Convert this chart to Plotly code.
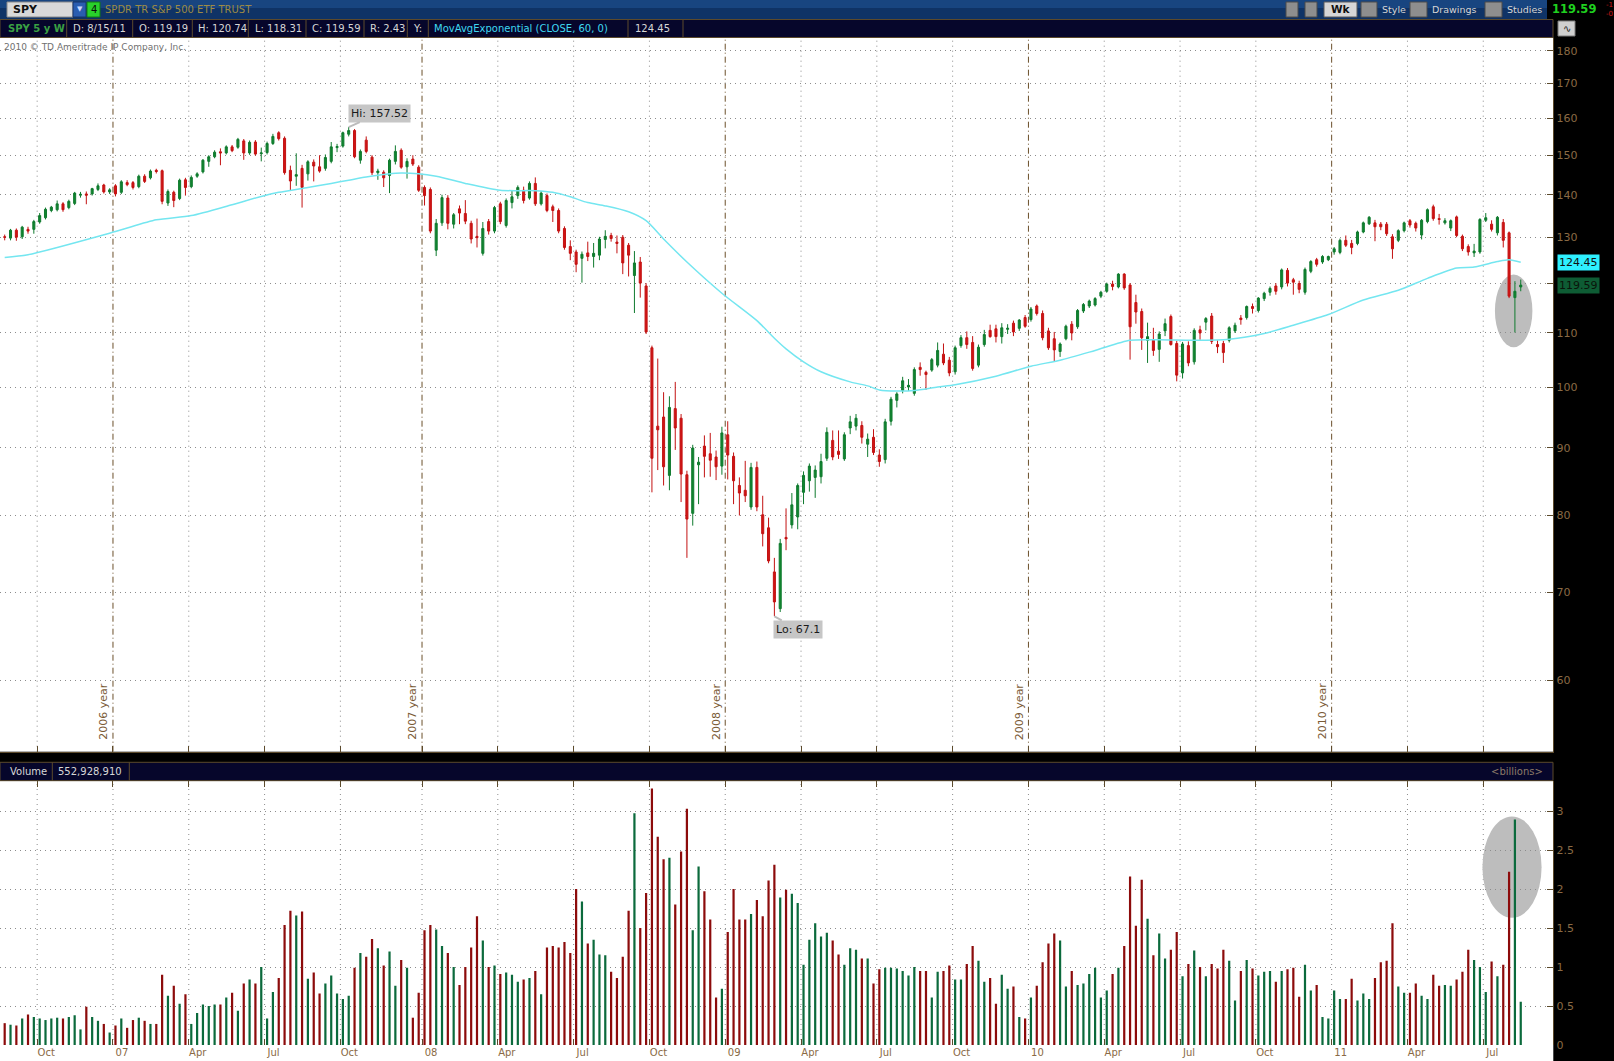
import math
import pandas as pd
import plotly.graph_objects as go

W, H = 1614, 1061

# weekly bars, SPY, Aug 2006 - Aug 2011
dates = pd.date_range("2006-08-21", periods=261, freq="W-MON")

opens = [
    130.1, 129.8, 131.6, 130.1, 131.8, 131.8, 133.5, 134.5, 136.2, 136.4,
    137.8, 136.9, 137.9, 139.9, 140.2, 140.2, 141.3, 142.4, 140.7, 142.2,
    140.6, 143.0, 143.0, 142.0, 144.6, 144.2, 146.1, 146.0, 138.0, 140.6,
    139.1, 143.7, 142.0, 144.6, 145.7, 148.4, 149.6, 150.9, 150.6, 152.2,
    152.1, 153.8, 150.6, 153.5, 150.4, 150.7, 153.1, 156.0, 154.5, 146.1,
    144.6, 146.6, 145.2, 148.2, 147.0, 146.6, 148.4, 152.0, 152.4, 155.6,
    156.6, 148.7, 154.0, 149.5, 145.5, 145.6, 144.8, 148.4, 151.3, 147.0,
    149.0, 146.9, 141.8, 141.3, 127.1, 133.3, 139.2, 133.0, 136.6, 135.5,
    133.2, 130.2, 126.4, 133.6, 131.4, 137.8, 132.7, 138.1, 139.8, 141.1,
    139.2, 142.8, 137.8, 139.8, 137.1, 136.2, 132.0, 127.9, 126.7, 125.3,
    126.5, 125.7, 126.0, 129.5, 130.4, 128.9, 130.0, 128.2, 121.6, 124.5,
    119.4, 107.2, 93.5, 95.0, 85.8, 96.4, 94.8, 85.9, 80.3, 87.4,
    90.3, 89.1, 88.6, 87.2, 92.1, 88.7, 84.3, 83.6, 81.2, 87.0,
    80.1, 78.3, 72.5, 68.0, 77.0, 78.7, 79.8, 83.3, 85.0, 85.5,
    85.6, 88.4, 91.2, 89.5, 88.3, 93.2, 93.5, 93.6, 90.6, 91.7,
    88.9, 88.2, 94.3, 97.8, 99.5, 100.1, 99.0, 103.6, 102.7, 103.1,
    104.0, 106.0, 104.9, 102.8, 107.6, 109.1, 108.2, 104.0, 107.8, 110.5,
    110.8, 109.3, 110.7, 111.9, 110.9, 113.0, 112.6, 115.3, 113.8, 110.4,
    108.9, 106.5, 108.9, 111.7, 111.2, 114.3, 115.3, 115.5, 117.3, 118.3,
    119.8, 119.2, 121.9, 119.6, 116.0, 114.2, 108.6, 108.6, 106.9, 110.4,
    113.2, 108.0, 102.6, 107.6, 104.6, 110.6, 112.1, 113.3, 107.8, 108.0,
    108.6, 110.4, 112.9, 113.0, 115.2, 114.4, 116.8, 118.1, 119.4, 119.2,
    122.7, 120.7, 119.9, 118.1, 122.5, 125.0, 124.5, 125.0, 126.7, 126.6,
    129.3, 128.6, 128.6, 131.2, 133.1, 133.3, 133.0, 133.0, 130.1, 129.3,
    131.5, 133.8, 133.2, 130.5, 133.6, 137.1, 134.3, 133.3, 132.1, 134.7,
    130.2, 127.9, 126.5, 126.7, 133.9, 133.0, 131.0, 133.4, 131.0, 117.0,
    119.19,
]

highs = [
    130.6, 131.9, 132.0, 132.6, 132.4, 134.0, 135.6, 136.9, 137.3, 138.6,
    138.2, 138.8, 140.7, 140.7, 140.8, 141.7, 142.8, 142.7, 141.6, 142.6,
    143.6, 143.6, 143.4, 145.0, 145.1, 146.3, 146.5, 146.3, 141.3, 141.0,
    144.0, 144.2, 144.8, 145.6, 149.0, 150.0, 151.3, 151.8, 152.6, 152.7,
    154.6, 154.3, 153.9, 154.0, 152.0, 153.6, 155.7, 156.4, 155.0, 147.3,
    150.5, 147.5, 148.7, 148.9, 150.0, 150.2, 153.5, 153.0, 156.3, 157.52,
    157.0, 151.5, 155.0, 150.0, 146.5, 146.1, 149.1, 152.6, 151.8, 149.2,
    150.0, 147.4, 142.3, 141.8, 134.2, 140.0, 139.9, 135.6, 137.4, 138.7,
    133.8, 134.3, 133.5, 134.2, 137.3, 138.3, 139.1, 141.0, 142.3, 142.0,
    143.3, 144.3, 140.9, 140.3, 137.6, 136.7, 132.5, 129.3, 127.2, 126.8,
    129.0, 128.7, 130.1, 131.6, 131.0, 130.4, 130.5, 128.7, 126.9, 125.6,
    120.0, 107.6, 105.2, 99.2, 98.5, 101.0, 95.5, 86.5, 90.5, 88.6,
    92.0, 92.4, 89.6, 93.4, 94.3, 89.3, 85.5, 88.0, 87.7, 87.9,
    82.8, 79.7, 74.3, 76.8, 81.0, 83.2, 84.6, 86.4, 87.6, 87.3,
    89.1, 93.3, 92.8, 92.8, 92.5, 95.2, 95.5, 94.3, 92.3, 93.0,
    89.8, 94.7, 98.4, 99.2, 101.9, 101.5, 103.6, 104.5, 103.0, 105.3,
    108.2, 108.0, 105.5, 107.6, 109.6, 110.3, 109.4, 107.8, 110.6, 111.6,
    111.6, 111.9, 111.7, 112.4, 112.7, 113.5, 115.1, 115.6, 114.4, 111.0,
    110.2, 108.2, 111.6, 112.3, 114.7, 115.9, 116.6, 117.1, 118.4, 120.1,
    120.5, 122.1, 122.1, 120.0, 117.6, 114.8, 112.0, 111.0, 110.3, 112.8,
    113.6, 108.5, 108.3, 108.4, 110.9, 111.4, 113.1, 113.9, 108.6, 108.5,
    111.3, 112.0, 113.5, 115.4, 115.8, 117.1, 118.2, 119.3, 120.0, 123.1,
    123.2, 121.1, 120.5, 123.3, 124.9, 125.4, 126.0, 125.9, 127.8, 129.7,
    130.4, 129.4, 131.5, 133.6, 134.9, 134.0, 133.5, 133.5, 130.7, 131.8,
    133.6, 134.2, 133.6, 134.2, 136.7, 137.6, 135.4, 134.4, 134.1, 135.0,
    130.6, 128.4, 128.5, 134.4, 135.6, 133.9, 134.9, 134.2, 131.3, 120.4,
    120.74,
]

lows = [
    129.3, 129.3, 129.2, 129.6, 130.8, 130.8, 133.1, 134.1, 135.8, 136.0,
    135.9, 136.5, 137.5, 139.3, 137.7, 139.8, 140.9, 140.3, 140.2, 139.6,
    140.2, 142.1, 141.3, 141.6, 142.9, 143.8, 145.3, 137.7, 137.3, 137.0,
    138.7, 139.8, 141.6, 144.2, 145.3, 147.0, 149.2, 147.4, 150.2, 150.8,
    151.7, 148.8, 150.1, 149.9, 148.4, 150.2, 152.7, 153.9, 145.0, 141.0,
    142.2, 136.9, 143.5, 143.3, 145.5, 146.0, 147.9, 150.8, 152.0, 155.0,
    149.2, 147.8, 150.5, 144.9, 143.7, 141.9, 140.4, 147.6, 146.5, 144.0,
    147.2, 140.7, 137.4, 130.9, 125.8, 132.6, 131.8, 132.0, 133.0, 133.0,
    128.6, 127.7, 125.9, 130.6, 130.9, 133.0, 132.2, 136.7, 139.0, 137.9,
    138.8, 137.3, 137.4, 135.8, 133.5, 130.9, 127.2, 124.9, 122.3, 120.1,
    124.7, 123.3, 124.9, 127.5, 129.0, 126.4, 121.9, 121.4, 113.9, 117.0,
    109.8, 83.3, 86.6, 84.3, 83.6, 89.7, 81.9, 74.3, 78.6, 81.6,
    85.5, 85.6, 85.1, 85.9, 85.2, 81.6, 80.0, 81.9, 80.8, 80.6,
    75.8, 73.6, 67.1, 67.6, 75.3, 78.2, 78.1, 81.6, 83.4, 82.5,
    84.6, 88.0, 88.1, 88.3, 88.0, 92.2, 92.8, 90.7, 88.6, 88.9,
    87.1, 87.6, 93.6, 96.6, 99.0, 99.4, 98.6, 102.1, 99.6, 102.8,
    103.6, 104.0, 102.0, 102.3, 107.2, 107.0, 103.0, 103.6, 107.4, 109.1,
    108.2, 108.0, 109.8, 109.4, 110.4, 111.0, 112.2, 113.4, 108.6, 106.8,
    104.6, 105.5, 108.6, 108.6, 110.8, 113.9, 114.9, 115.2, 116.9, 118.0,
    118.5, 118.9, 118.6, 105.0, 111.8, 106.8, 104.4, 105.7, 104.6, 109.4,
    107.6, 101.1, 101.6, 103.8, 104.1, 108.7, 110.5, 107.9, 106.2, 104.4,
    108.2, 110.0, 111.6, 112.6, 113.8, 114.0, 116.3, 117.4, 117.6, 118.7,
    119.3, 117.6, 117.9, 117.6, 122.1, 123.5, 124.1, 124.7, 126.1, 126.2,
    127.8, 126.2, 128.2, 130.9, 132.8, 129.1, 131.6, 130.3, 125.2, 128.9,
    131.1, 132.2, 131.3, 129.5, 133.2, 133.8, 132.9, 132.9, 131.4, 130.0,
    126.9, 125.9, 125.6, 126.3, 133.5, 131.3, 130.4, 127.7, 116.9, 110.1,
    118.31,
]

closes = [
    130.0, 131.6, 130.0, 132.3, 131.4, 133.6, 135.0, 136.5, 137.0, 137.8,
    136.4, 138.4, 140.4, 140.1, 139.9, 141.5, 142.2, 140.7, 141.2, 140.2,
    143.2, 142.5, 141.8, 144.6, 143.3, 145.9, 145.8, 138.4, 140.8, 138.6,
    143.6, 141.8, 144.3, 145.2, 148.7, 149.6, 150.8, 150.6, 152.2, 151.2,
    154.2, 150.6, 153.4, 150.3, 150.6, 153.1, 155.0, 154.4, 145.5, 143.4,
    145.0, 141.8, 148.3, 147.2, 145.9, 149.4, 152.2, 152.3, 156.0, 156.6,
    149.6, 151.0, 151.0, 145.5, 145.9, 144.2, 148.7, 151.0, 146.9, 148.4,
    147.7, 141.1, 139.8, 131.4, 133.2, 139.3, 133.2, 135.2, 135.6, 133.7,
    129.6, 129.9, 132.0, 131.4, 136.9, 133.6, 138.6, 139.5, 141.8, 138.6,
    142.8, 137.8, 140.4, 136.2, 136.2, 131.4, 127.7, 126.4, 124.0, 126.2,
    125.7, 126.4, 129.6, 130.2, 129.7, 128.6, 124.3, 126.0, 124.3, 120.0,
    110.2, 88.4, 92.9, 87.1, 96.6, 93.2, 86.0, 79.5, 90.0, 87.8,
    88.7, 88.1, 87.1, 92.4, 88.9, 85.0, 83.2, 82.8, 87.0, 81.2,
    77.5, 73.9, 68.8, 76.2, 76.8, 81.5, 84.3, 85.8, 87.2, 86.6,
    87.9, 92.5, 88.6, 89.0, 92.1, 94.2, 94.8, 91.7, 91.4, 89.3,
    87.9, 94.2, 98.0, 98.9, 101.2, 100.4, 103.2, 103.2, 102.3, 105.0,
    106.7, 104.4, 102.6, 107.2, 109.1, 107.8, 103.4, 107.3, 109.7, 109.3,
    109.3, 111.0, 110.9, 110.2, 112.5, 111.3, 114.7, 113.8, 109.1, 107.2,
    106.8, 107.9, 111.3, 110.0, 114.4, 115.6, 116.3, 116.8, 118.1, 119.8,
    119.3, 121.9, 119.0, 111.2, 114.1, 109.1, 109.3, 106.7, 109.8, 111.8,
    107.8, 102.2, 107.9, 104.4, 110.5, 110.0, 112.8, 108.4, 107.4, 106.3,
    111.0, 111.5, 112.6, 115.2, 114.8, 116.9, 117.9, 118.9, 118.3, 122.8,
    120.0, 120.2, 118.7, 122.9, 124.6, 124.0, 125.7, 125.7, 127.4, 129.3,
    128.2, 127.7, 131.2, 133.3, 134.6, 132.4, 132.4, 130.8, 127.4, 131.5,
    133.3, 132.8, 132.1, 133.9, 136.4, 134.3, 134.1, 133.8, 133.8, 130.4,
    127.4, 126.7, 126.9, 134.1, 134.5, 131.8, 134.6, 129.3, 117.3, 118.3,
    119.59,
]

# weekly volume, billions of shares
volume = [
    0.28, 0.26, 0.25, 0.34, 0.39, 0.36, 0.34, 0.32, 0.34, 0.35,
    0.34, 0.36, 0.38, 0.20, 0.49, 0.36, 0.31, 0.27, 0.16, 0.25,
    0.34, 0.22, 0.32, 0.35, 0.31, 0.27, 0.27, 0.90, 0.63, 0.76,
    0.53, 0.65, 0.27, 0.41, 0.52, 0.50, 0.52, 0.52, 0.61, 0.67,
    0.44, 0.79, 0.84, 0.79, 1.00, 0.34, 0.68, 0.86, 1.54, 1.72,
    1.66, 1.71, 0.85, 0.93, 0.66, 0.79, 0.89, 0.66, 0.59, 0.63,
    0.99, 1.18, 1.13, 1.36, 1.24, 1.02, 1.20, 0.76, 1.09, 0.99,
    0.35, 0.67, 1.47, 1.54, 1.48, 1.27, 1.18, 1.00, 0.77, 1.00,
    1.25, 1.65, 1.34, 1.00, 1.02, 0.91, 0.93, 0.90, 0.81, 0.84,
    0.86, 0.95, 0.65, 1.25, 1.27, 1.25, 1.32, 1.18, 2.00, 1.84,
    1.30, 1.35, 1.16, 1.15, 0.94, 0.86, 1.13, 1.72, 2.97, 1.50,
    1.95, 3.29, 2.67, 2.38, 2.40, 1.80, 2.48, 3.03, 1.47, 2.29,
    1.97, 1.61, 0.61, 0.72, 1.45, 2.00, 1.61, 1.61, 1.68, 1.86,
    1.65, 2.11, 2.31, 1.89, 1.99, 1.94, 1.82, 1.03, 1.35, 1.56,
    1.39, 1.44, 1.34, 1.16, 1.03, 1.24, 1.22, 1.11, 1.11, 0.79,
    0.97, 0.99, 0.99, 0.98, 0.95, 0.89, 1.00, 0.95, 0.95, 0.61,
    0.94, 0.95, 1.02, 0.84, 0.84, 1.04, 1.27, 1.08, 0.81, 0.86,
    0.53, 0.90, 0.72, 0.75, 0.36, 0.34, 0.61, 0.76, 1.06, 1.30,
    1.43, 1.34, 0.75, 0.95, 0.77, 0.79, 0.91, 0.99, 0.61, 0.70,
    0.91, 0.99, 1.27, 2.16, 1.53, 2.12, 1.62, 1.15, 1.43, 1.11,
    1.22, 1.45, 0.88, 1.04, 1.21, 1.00, 0.88, 1.04, 0.98, 1.22,
    1.08, 0.57, 0.95, 1.09, 0.98, 0.89, 0.94, 0.95, 0.81, 0.95,
    0.97, 0.99, 0.62, 1.03, 0.70, 0.77, 0.36, 0.34, 0.70, 0.59,
    0.59, 0.85, 0.57, 0.66, 0.59, 0.86, 1.06, 1.08, 1.56, 0.75,
    0.67, 0.67, 0.79, 0.63, 0.59, 0.90, 0.76, 0.77, 0.76, 0.84,
    0.94, 1.22, 1.09, 1.00, 0.68, 1.07, 0.88, 1.03, 2.22, 2.89,
    0.55292891,
]

# MovAvgExponential(CLOSE, 60) at these bar numbers
ema_week = [0, 4, 19, 26, 32, 39, 44, 47, 52, 56, 59, 62, 68, 74, 79, 85, 91, 94,
            97, 100, 103, 107, 110, 113, 117, 123, 129, 132, 134, 137, 140, 145,
            148, 150, 153, 156, 160, 163, 170, 176, 181, 187, 193, 198, 204, 210,
            216, 221, 227, 233, 239, 244, 249, 252, 256, 258, 260]
ema_value = [125.5, 126.1, 131.3, 134.0, 135.0, 137.6, 139.6, 140.6, 141.8, 142.8,
             143.6, 144.4, 145.4, 144.6, 142.8, 141.1, 141.0, 140.6, 139.5, 138.1,
             137.3, 135.9, 133.8, 129.6, 124.5, 117.9, 112.4, 109.0, 107.0, 104.6,
             102.8, 101.0, 100.3, 99.6, 99.4, 99.5, 100.1, 100.5, 102.0, 103.8,
             104.9, 106.7, 108.6, 108.7, 108.6, 108.8, 109.9, 111.5, 113.6, 116.5,
             118.5, 121.0, 123.2, 123.4, 124.6, 125.0, 124.45]

price_ticks = [60, 70, 80, 90, 100, 110, 120, 130, 140, 150, 160, 170, 180]
# the 120 label sits under the last-price tag, as in the original
price_tick_text = ["" if t == 120 else str(t) for t in price_ticks]
vol_ticks = [0, 0.5, 1, 1.5, 2, 2.5, 3]
vol_tick_text = ["0", "0.5", "1", "1.5", "2", "2.5", "3"]

BROWN = "#8a6a45"
GRID = "#8c8c8c"
NAVY = "#06062b"
EDGE = "#5c4a2c"
FONT = "DejaVu Sans"

up = [c >= o for o, c in zip(opens, closes)]
vol_colors = ["#0b6a3c" if u else "#8c0b0b" for u in up]

# quarter boundaries: first weekly bar of Jan/Apr/Jul/Oct
quarter_bars = []
seen = set()
for d in dates:
    if d.month in (1, 4, 7, 10) and (d.year, d.month) not in seen:
        seen.add((d.year, d.month))
        quarter_bars.append(d)
grid_x = [d - pd.Timedelta(days=3) for d in quarter_bars]
grid_text = [d.strftime("%y") if d.month == 1 else d.strftime("%b") for d in quarter_bars]

x_range = [dates[0] - pd.Timedelta(hours=135), dates[-1] + pd.Timedelta(hours=938)]


def fy(y):
    return 1 - y / H


def fx(x):
    return x / W


fig = go.Figure()

fig.add_trace(go.Candlestick(
    x=dates, open=opens, high=highs, low=lows, close=closes,
    increasing=dict(line=dict(color="#0f7a2e", width=1), fillcolor="#11852f"),
    decreasing=dict(line=dict(color="#c31212", width=1), fillcolor="#d01515"),
    whiskerwidth=0, xaxis="x", yaxis="y", showlegend=False))

fig.add_trace(go.Scatter(
    x=[dates[i] for i in ema_week], y=ema_value, mode="lines",
    line=dict(color="#74e6f0", width=1.5, shape="spline", smoothing=0.7),
    xaxis="x", yaxis="y", showlegend=False))

fig.add_trace(go.Bar(
    x=dates, y=volume, marker=dict(color=vol_colors, line=dict(width=0)),
    xaxis="x2", yaxis="y2", showlegend=False))

price_dom = [fy(751.7), fy(37.5)]
vol_dom = [fy(1045), fy(781)]
right = fx(1553.3)

fig.update_layout(
    width=W, height=H, template="none",
    margin=dict(l=0, r=0, t=0, b=0),
    paper_bgcolor="black", plot_bgcolor="white",
    font=dict(family=FONT, color=BROWN, size=11),
    boxgap=0.5, bargap=0.62, showlegend=False,
    xaxis=dict(type="date", domain=[0, right], range=x_range, anchor="y",
               rangeslider=dict(visible=False), showgrid=False, zeroline=False,
               tickvals=grid_x, ticks="inside", ticklen=6, tickcolor=EDGE,
               showticklabels=False, showline=True, linecolor=EDGE, automargin=False),
    yaxis=dict(type="log", domain=price_dom, anchor="x", side="right",
               range=[math.log10(52.98), math.log10(184.2)],
               tickvals=price_ticks, ticktext=price_tick_text, ticks="inside",
               ticklen=6, tickcolor=EDGE,
               tickfont=dict(color=BROWN, size=11), showgrid=True, gridcolor=GRID,
               griddash="1px,4px", gridwidth=1, zeroline=False,
               showline=True, linecolor=EDGE, automargin=False),
    xaxis2=dict(type="date", domain=[0, right], matches="x", anchor="y2",
                showgrid=False, zeroline=False, tickvals=grid_x, ticktext=grid_text,
                ticks="inside", ticklen=6, tickcolor=EDGE, mirror="ticks",
                tickfont=dict(color=BROWN, size=10), ticklabelshift=9,
                showline=False, automargin=False),
    yaxis2=dict(domain=vol_dom, anchor="x2", side="right", range=[0, 264 / 78],
                tickvals=vol_ticks, ticktext=vol_tick_text, ticks="inside",
                ticklen=6, tickcolor=EDGE, tickfont=dict(color=BROWN, size=11),
                showgrid=True, gridcolor=GRID, griddash="1px,4px", zeroline=False,
                showline=True, linecolor=EDGE, automargin=False),
)

# vertical quarter / year lines in both panels
dotted = dict(color=GRID, width=1, dash="1px,4px")
for qb, d in zip(quarter_bars, grid_x):
    year = qb.month == 1
    style = dict(color="#6b4f2a", width=1, dash="6px,3px,1px,3px") if year else dotted
    fig.add_shape(type="line", xref="x", yref="y domain", x0=d, x1=d, y0=0, y1=1,
                  line=style, layer="below")
    fig.add_shape(type="line", xref="x2", yref="y2 domain", x0=d, x1=d, y0=0, y1=1,
                  line=dotted, layer="below")
    if year:
        fig.add_annotation(x=d, y=0, xref="x", yref="y domain", text=f"{qb.year - 1} year",
                           textangle=-90, showarrow=False, xanchor="right", yanchor="bottom",
                           xshift=-1, yshift=10, font=dict(color="#7a5a35", size=11))

# highlight ellipses on the last bars (shape positions on a log axis are plain values)
fig.add_shape(type="circle", xref="x", yref="y",
              x0=dates[256] - pd.Timedelta(days=3), x1=dates[260] + pd.Timedelta(days=14),
              y0=107.3, y1=121.8,
              fillcolor="#bdbdbd", line=dict(width=0), layer="below")
fig.add_shape(type="circle", xref="x2", yref="y2",
              x0=dates[254] - pd.Timedelta(days=4), x1=dates[260] + pd.Timedelta(days=25),
              y0=1.63, y1=2.93, fillcolor="#bdbdbd", line=dict(width=0), layer="below")

# Hi / Lo bubbles
hi = max(range(len(highs)), key=lambda i: highs[i])
lo = min(range(len(lows)), key=lambda i: lows[i])
fig.add_annotation(x=dates[hi], y=math.log10(highs[hi]), xref="x", yref="y",
                   text=f"Hi: {highs[hi]:g}", showarrow=True, arrowhead=0, arrowwidth=2,
                   arrowcolor="#bcbcbc", ax=31, ay=-14, standoff=0,
                   bgcolor="#c6c6c6", borderpad=2, font=dict(color="#1a1a1a", size=11))
fig.add_annotation(x=dates[lo], y=math.log10(lows[lo]), xref="x", yref="y",
                   text=f"Lo: {lows[lo]:g}", showarrow=True, arrowhead=0, arrowwidth=2,
                   arrowcolor="#bcbcbc", ax=24, ay=13, standoff=0,
                   bgcolor="#c6c6c6", borderpad=2, font=dict(color="#1a1a1a", size=11))

# last value tags on the price axis
fig.add_annotation(x=fx(1557), y=math.log10(ema_value[-1]), xref="paper", yref="y",
                   text=f"{ema_value[-1]:.2f}", showarrow=False, xanchor="left",
                   bgcolor="#2ef0ff", borderpad=1, font=dict(color="#101010", size=11))
fig.add_annotation(x=fx(1557), y=math.log10(closes[-1]), xref="paper", yref="y",
                   text=f"{closes[-1]:.2f}", showarrow=False, xanchor="left",
                   bgcolor="#0e5c34", borderpad=1, font=dict(color="#0a140a", size=11))


def box(x0, y0, x1, y1, fill, line=None):
    fig.add_shape(type="rect", xref="paper", yref="paper", x0=fx(x0), x1=fx(x1),
                  y0=fy(y1), y1=fy(y0), fillcolor=fill,
                  line=dict(color=line or fill, width=1 if line else 0), layer="above")


def vline(x, y0, y1):
    fig.add_shape(type="line", xref="paper", yref="paper", x0=fx(x), x1=fx(x),
                  y0=fy(y1), y1=fy(y0), line=dict(color=EDGE, width=1), layer="above")


def note(x, y, text, color="#d6d6d6", size=10, anchor="left", bold=False):
    fig.add_annotation(x=fx(x), y=fy(y), xref="paper", yref="paper",
                       text=f"<b>{text}</b>" if bold else text, showarrow=False,
                       xanchor=anchor, yanchor="middle", font=dict(color=color, size=size))


# white strip under the volume panel
fig.add_shape(type="rect", xref="paper", yref="paper", x0=0, x1=right, y0=0, y1=fy(1045),
              fillcolor="white", line=dict(width=0), layer="below")

# top tool bar
box(0, 0, 1547, 19, "#0f3366")
box(0, 0, 1547, 8, "#184580")
box(7, 2, 73, 17, "#d9d9d9", "#8a8a8a")
note(11, 9.5, "SPY", color="#101010", size=11, bold=True)
box(73, 2, 86, 17, "#2a5db0", "#16346a")
note(79.5, 9.5, "▼", color="#c8d8ff", size=7, anchor="center")
box(87, 2, 100, 17, "#29d12b", "#137a14")
note(93.5, 9.5, "4", color="#0a0a0a", size=10, anchor="center")
note(103, 9.5, "SPDR TR S&P 500 ETF TRUST", color="#9d8b45", size=10)
for x0, x1 in [(1286, 1298), (1305, 1317), (1361, 1377), (1410, 1427), (1485, 1502)]:
    box(x0, 2, x1, 17, "#8e8e8e", "#4a4a4a")
box(1324, 2, 1357, 17, "#d6d6d6", "#5a5a5a")
note(1340.5, 9.5, "Wk", color="#101010", size=10.5, anchor="center", bold=True)
note(1380, 9.5, "Style", size=9.5)
note(1430, 9.5, "Drawings", size=9.5)
note(1505, 9.5, "Studies", size=9.5)
note(1550, 9.5, f"{closes[-1]:.2f}", color="#1fd01f", size=11.5, bold=True)
note(1604, 5, "-1", color="#d01818", size=7)
note(1604, 14, "-0", color="#d01818", size=7)

# study / quote bar
box(0, 19.5, 1553, 37.5, NAVY, EDGE)
for x in [66.7, 132.7, 192.3, 248.3, 306, 364, 407.3, 428.3, 628, 683]:
    vline(x, 19.5, 37.5)
note(6, 28.5, "SPY 5 y W", color="#3aa043", bold=True)
note(71, 28.5, f"D: {dates[-1].month}/{dates[-1].day}/{dates[-1]:%y}")
note(137, 28.5, f"O: {opens[-1]:.2f}")
note(196, 28.5, f"H: {highs[-1]:.2f}")
note(253, 28.5, f"L: {lows[-1]:.2f}")
note(310, 28.5, f"C: {closes[-1]:.2f}")
note(368, 28.5, f"R: {highs[-1] - lows[-1]:.2f}")
note(411, 28.5, "Y:")
note(432, 28.5, "MovAvgExponential (CLOSE, 60, 0)", color="#3fd8f0")
note(633, 28.5, f"{ema_value[-1]:.2f}")
box(1558, 21, 1575, 36, "#cfcfcf", "#7a7a7a")
note(1566.5, 28.5, "∿", color="#222222", size=10, anchor="center")

note(2, 47, "2010 © TD Ameritrade IP Company, Inc.", color="#707070", size=9)

# volume header bar
box(0, 762.3, 1553, 780.7, NAVY, EDGE)
vline(52.3, 762.3, 780.7)
vline(129.3, 762.3, 780.7)
note(8, 771.5, "Volume")
note(56, 771.5, f"{round(volume[-1] * 1e9):,}")
note(1545, 771.5, "&lt;billions&gt;", color="#8c7a68", anchor="right")

fig.write_html("out.html", config={"displayModeBar": False},
               post_script="document.body.style.margin='0';")
